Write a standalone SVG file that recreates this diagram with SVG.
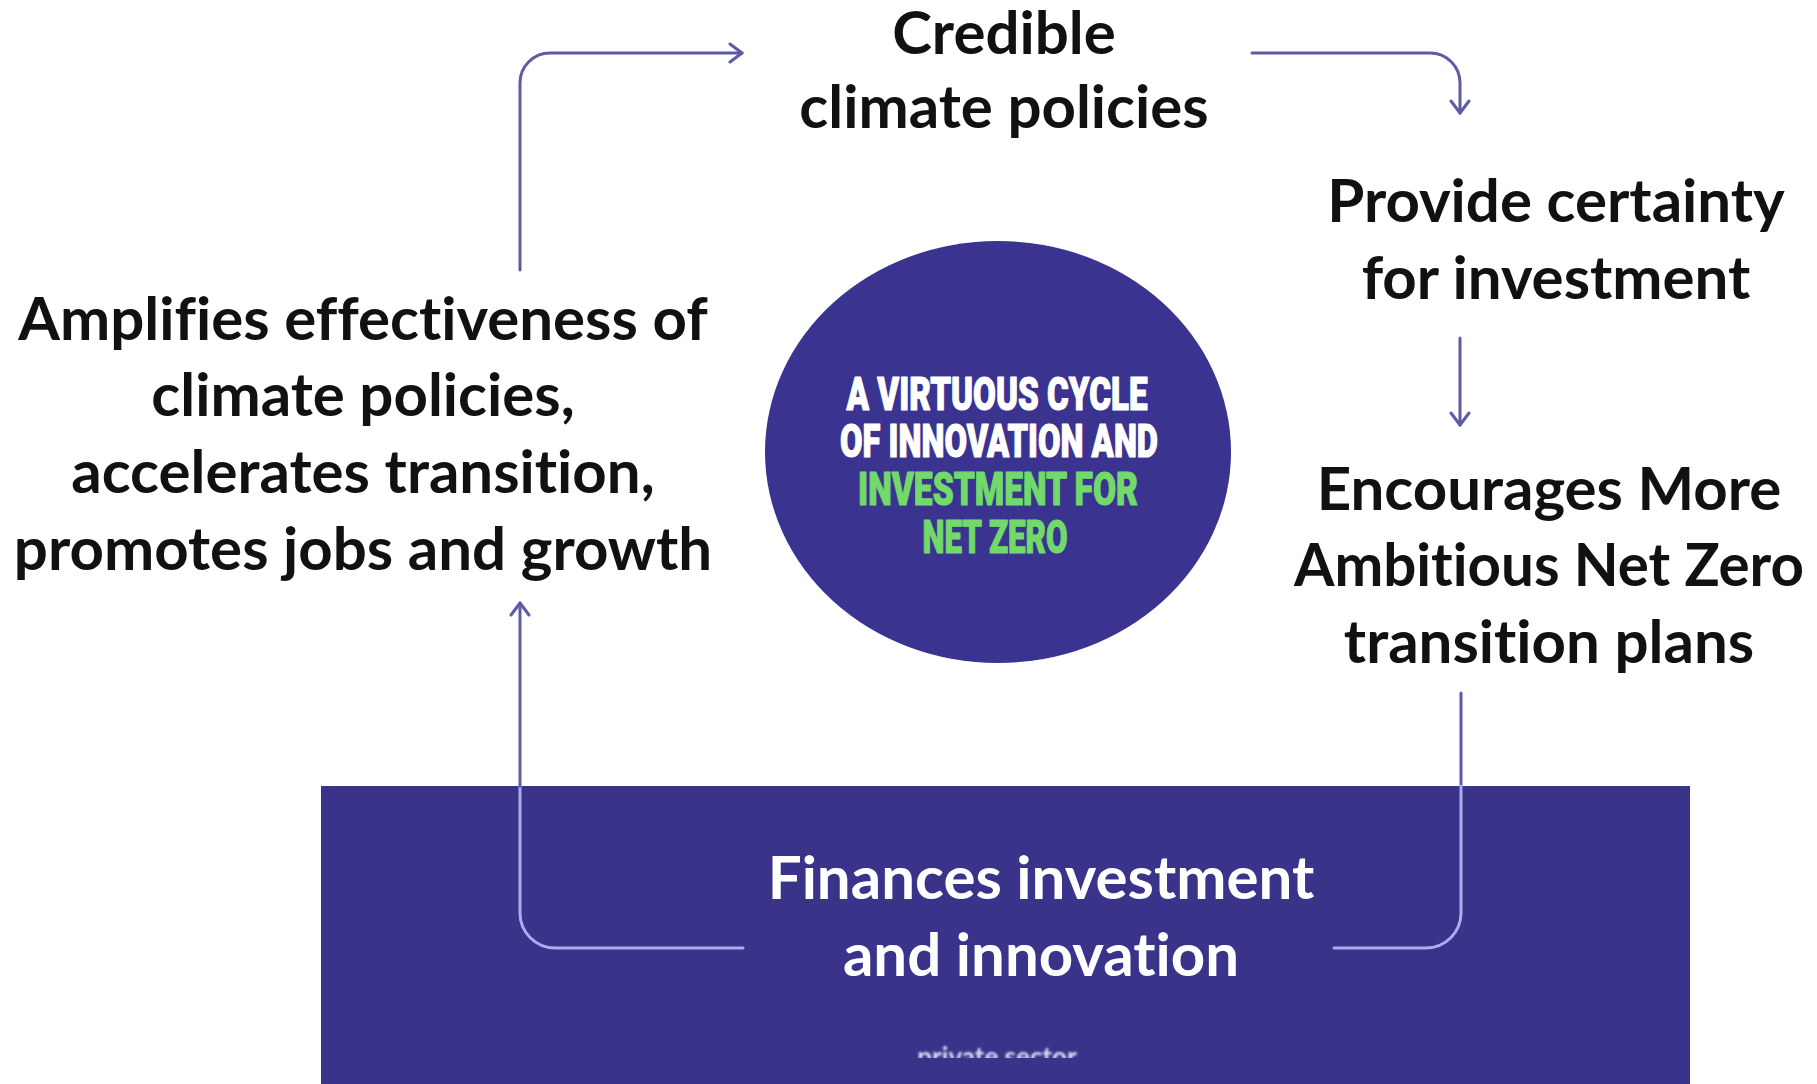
<svg xmlns="http://www.w3.org/2000/svg" width="1817" height="1084" viewBox="0 0 1817 1084">
  <style>
    .label { font-family: Lato, "Open Sans", "Liberation Sans", sans-serif; font-weight: bold; font-size: 60px; fill: #111111; text-anchor: middle; font-variant-ligatures: none; font-feature-settings: "liga" 0, "clig" 0; }
    .label-light { fill: #ffffff; }
    .badge { font-family: Roboto, "DejaVu Sans", "Liberation Sans", sans-serif; font-weight: 900; font-size: 47px; text-anchor: middle; stroke-width: 1.2; stroke-linejoin: round; }
    .badge-white { fill: #ffffff; stroke: #ffffff; }
    .badge-green { fill: #72d96b; stroke: #72d96b; }
    .conn { fill: none; stroke: #5d5aa6; stroke-width: 3; stroke-linecap: round; }
    .conn-light { fill: none; stroke: #aeabef; stroke-width: 3; stroke-linecap: round; }
  </style>
  <defs>
    <marker id="arrow" markerUnits="userSpaceOnUse" viewBox="0 0 16 22" refX="14" refY="11" markerWidth="16" markerHeight="22" orient="auto">
      <path d="M2,2 L14,11 L2,20" fill="none" stroke="#5d5aa6" stroke-width="3" stroke-linecap="round" stroke-linejoin="round"/>
    </marker>
    <clipPath id="footer-clip">
      <rect x="321" y="786" width="1369" height="272"/>
    </clipPath>
    <filter id="soft" x="-5%" y="-50%" width="110%" height="200%">
      <feGaussianBlur stdDeviation="0.8"/>
    </filter>
  </defs>

  <rect width="1817" height="1084" fill="#ffffff"/>

  <!-- bottom band: finance -->
  <g id="node-finance">
    <rect x="321" y="786" width="1369" height="298" fill="#39338a"/>
    <text class="label label-light" x="1041" y="899">Finances investment</text>
    <text class="label label-light" x="1041" y="976">and innovation</text>
    <g clip-path="url(#footer-clip)">
      <text x="997" y="1066" fill="#dcdaf7" filter="url(#soft)" font-family="Lato, 'Liberation Sans', sans-serif" font-weight="bold" font-size="26" text-anchor="middle">private sector</text>
    </g>
  </g>

  <!-- central badge -->
  <g id="node-center">
    <ellipse cx="998" cy="452" rx="233" ry="211" fill="#3a3490"/>
    <text class="badge badge-white" x="997" y="410" textLength="301" lengthAdjust="spacingAndGlyphs">A VIRTUOUS CYCLE</text>
    <text class="badge badge-white" x="999" y="457" textLength="318" lengthAdjust="spacingAndGlyphs">OF INNOVATION AND</text>
    <text class="badge badge-green" x="998" y="505" textLength="280" lengthAdjust="spacingAndGlyphs">INVESTMENT FOR</text>
    <text class="badge badge-green" x="995" y="553" textLength="145" lengthAdjust="spacingAndGlyphs">NET ZERO</text>
  </g>

  <g id="node-policies">
    <text class="label" x="1004" y="54">Credible</text>
    <text class="label" x="1004" y="128">climate policies</text>
  </g>

  <g id="node-certainty">
    <text class="label" x="1556" y="222">Provide certainty</text>
    <text class="label" x="1556" y="299">for investment</text>
  </g>

  <g id="node-ambition">
    <text class="label" x="1549" y="510">Encourages More</text>
    <text class="label" x="1549" y="586" textLength="510" lengthAdjust="spacingAndGlyphs">Ambitious Net Zero</text>
    <text class="label" x="1549" y="663">transition plans</text>
  </g>

  <g id="node-amplifies">
    <text class="label" x="363" y="340">Amplifies effectiveness of</text>
    <text class="label" x="363" y="416">climate policies,</text>
    <text class="label" x="363" y="493">accelerates transition,</text>
    <text class="label" x="363" y="570">promotes jobs and growth</text>
  </g>

  <!-- connectors -->
  <g id="connectors">
    <path class="conn" d="M520,270 V83 A30,30 0 0 1 550,53 H742" marker-end="url(#arrow)"/>
    <path class="conn" d="M1252,53 H1430 A30,30 0 0 1 1460,83 V113" marker-end="url(#arrow)"/>
    <path class="conn" d="M1460,338 V425" marker-end="url(#arrow)"/>
    <path class="conn" d="M1461,693 V786"/>
    <path class="conn-light" d="M1461,786 V913 A35,35 0 0 1 1426,948 H1334"/>
    <path class="conn-light" d="M743,948 H555 A35,35 0 0 1 520,913 V786"/>
    <path class="conn" d="M520,786 V603" marker-end="url(#arrow)"/>
  </g>
</svg>
